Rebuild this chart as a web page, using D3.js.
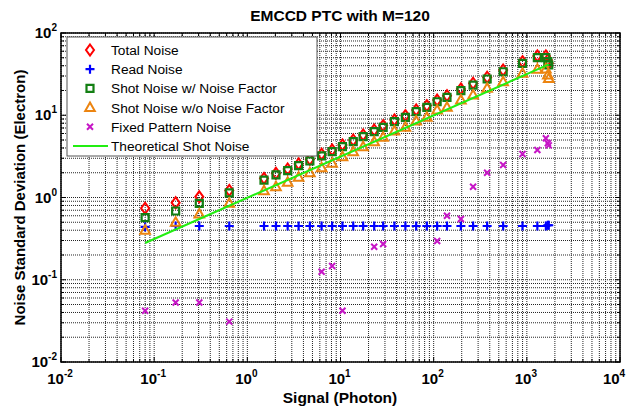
<!DOCTYPE html>
<html>
<head>
<meta charset="utf-8">
<script src="https://cdn.jsdelivr.net/npm/d3@7"></script>
<style>
  body { margin: 0; background: #fff; }
  text { font-family: Arial, "Liberation Sans", sans-serif; }
</style>
</head>
<body>
<div id="chart"></div>
<script>
// EMCCD photon transfer curve, log-log

const signal = [0.080, 0.170, 0.305, 0.640, 1.51, 2.03, 2.71, 3.55, 4.69, 6.27, 8.13, 10.5, 13.7, 17.5,
  23.0, 28.7, 37.9, 49.7, 64.9, 84.5, 109, 139, 196, 265, 375, 557, 899, 1297, 1600, 1680, 1720];
const totalNoise = [0.74, 0.865, 1.02, 1.22, 1.71, 1.97, 2.22, 2.56, 2.92, 3.36, 3.79, 4.36, 5.0, 5.76,
  6.62, 7.48, 8.77, 9.9, 11.6, 13.1, 15.3, 17.3, 20.9, 24.5, 29.0, 35.5, 44.9, 52.6, 52.6, 47.0, 42.8];
const readNoise = [0.44, 0.45, 0.45, 0.45, 0.45, 0.45, 0.45, 0.45, 0.45, 0.45, 0.45, 0.45, 0.45, 0.45,
  0.45, 0.45, 0.45, 0.45, 0.45, 0.45, 0.45, 0.45, 0.45, 0.45, 0.45, 0.45, 0.45, 0.45, 0.45, 0.46, 0.46];
const shotWithF = [0.57, 0.685, 0.85, 1.14, 1.63, 1.88, 2.12, 2.44, 2.78, 3.20, 3.61, 4.15, 4.77, 5.49,
  6.31, 7.13, 8.35, 9.44, 11.05, 12.5, 14.6, 16.5, 19.9, 23.3, 27.6, 33.8, 42.8, 50.1, 50.1, 44.8, 40.8];
const shotNoF = [0.40, 0.50, 0.63, 0.85, 1.21, 1.35, 1.53, 1.76, 2.00, 2.30, 2.61, 3.13, 3.60, 4.15,
  4.77, 5.40, 6.43, 7.13, 8.51, 9.44, 11.6, 12.5, 15.3, 17.6, 21.3, 25.6, 32.4, 36.2, 36.5, 30.9, 28.0];

const fpnSignal = [0.080, 0.170, 0.305, 0.640, 6.27, 8.13, 10.5, 23.0, 28.7, 109, 139, 196, 265, 375, 557, 899, 1297, 1600, 1680, 1720];
const fpnNoise = [0.042, 0.053, 0.053, 0.031, 0.125, 0.147, 0.042, 0.252, 0.272, 0.296, 0.60, 0.548, 1.35, 2.0, 2.48, 3.38, 3.78, 5.25, 4.56, 4.3];

const theorySignal = [0.08, 1720];
const theoryNoise = [0.28, 41.5];

const xMajor = [-2, -1, 0, 1, 2, 3, 4];
const yMajor = [-2, -1, 0, 1, 2];
const legendLabels = ['Total Noise', 'Read Noise', 'Shot Noise w/ Noise Factor', 'Shot Noise w/o Noise Factor',
  'Fixed Pattern Noise', 'Theoretical Shot Noise'];

const W = 631, H = 408;
const L = 61, R = 620, T = 33, B = 362;

const svg = d3.select('#chart').append('svg').attr('width', W).attr('height', H);

const x = d3.scaleLog().domain([1e-2, 1e4]).range([L, R]);
const y = d3.scaleLog().domain([1e-2, 1e2]).range([B, T]);

const isMajor = d => Math.abs(Math.log10(d) - Math.round(Math.log10(d))) < 1e-6;

// grid (major + minor, dotted)
const grid = svg.append('g').attr('stroke', '#000').attr('stroke-width', 1)
  .attr('stroke-dasharray', '1,1').attr('opacity', 0.85);
grid.selectAll('.gx').data(x.ticks()).enter().append('line')
  .attr('x1', d => x(d)).attr('x2', d => x(d)).attr('y1', T).attr('y2', B);
grid.selectAll('.gy').data(y.ticks()).enter().append('line')
  .attr('y1', d => y(d)).attr('y2', d => y(d)).attr('x1', L).attr('x2', R);

// inward ticks on all four sides
const ticks = svg.append('g').attr('stroke', '#000').attr('stroke-width', 1);
[[B, -1], [T, 1]].forEach(([y0, dir]) => {
  ticks.append('g').selectAll('line').data(x.ticks()).enter().append('line')
    .attr('x1', d => x(d)).attr('x2', d => x(d))
    .attr('y1', y0).attr('y2', d => y0 + dir * (isMajor(d) ? 5 : 3));
});
[[L, 1], [R, -1]].forEach(([x0, dir]) => {
  ticks.append('g').selectAll('line').data(y.ticks()).enter().append('line')
    .attr('y1', d => y(d)).attr('y2', d => y(d))
    .attr('x1', x0).attr('x2', d => x0 + dir * (isMajor(d) ? 5 : 3));
});

// tick labels 10^n
const xl = svg.append('g').selectAll('text').data(xMajor).enter().append('text')
  .attr('x', d => Math.min(x(Math.pow(10, d)) - 1, 614)).attr('y', 384)
  .attr('text-anchor', 'middle').attr('font-size', 15).attr('font-weight', 'bold');
xl.append('tspan').text('10');
xl.append('tspan').attr('dy', -7).attr('font-size', 10).text(d => d);

const yl = svg.append('g').selectAll('text').data(yMajor).enter().append('text')
  .attr('x', 57).attr('y', d => y(Math.pow(10, d)) + 5)
  .attr('text-anchor', 'end').attr('font-size', 15).attr('font-weight', 'bold');
yl.append('tspan').text('10');
yl.append('tspan').attr('dy', -7).attr('font-size', 10).text(d => d);

// titles
svg.append('text').attr('x', 340).attr('y', 21).attr('text-anchor', 'middle')
  .attr('font-size', 15.5).attr('font-weight', 'bold').text('EMCCD PTC with M=120');
svg.append('text').attr('x', 340).attr('y', 403).attr('text-anchor', 'middle')
  .attr('font-size', 15.5).attr('font-weight', 'bold').text('Signal (Photon)');
svg.append('text').attr('transform', `translate(25,${(T + B) / 2}) rotate(-90)`).attr('text-anchor', 'middle')
  .attr('font-size', 15).attr('font-weight', 'bold').text('Noise Standard Deviation (Electron)');

// marker shapes
const RED = '#ff0000', BLUE = '#0000ff', DGREEN = '#137f13', ORANGE = '#ec8410', MAGENTA = '#c616c6', LGREEN = '#22ee11';
const diamond = 'M0,-5.5 L4,0 L0,5.5 L-4,0 Z';
const plus = 'M-4.5,0 L4.5,0 M0,-4.5 L0,4.5';
const square = 'M-3.5,-3.5 L3.5,-3.5 L3.5,3.5 L-3.5,3.5 Z';
const tri = 'M0,-5 L4.8,3.5 L-4.8,3.5 Z';
const cross = 'M-3,-3 L3,3 M-3,3 L3,-3';

const plot = svg.append('g');
const drawSeries = function(xs, ys, shape, color, sw) {
  plot.append('g').selectAll('path').data(xs.map((s, i) => [s, ys[i]])).enter().append('path')
    .attr('d', shape)
    .attr('transform', d => `translate(${x(d[0])},${y(d[1])})`)
    .attr('fill', 'none').attr('stroke', color).attr('stroke-width', sw);
};
drawSeries(signal, totalNoise, diamond, RED, 2);
drawSeries(signal, readNoise, plus, BLUE, 2.2);
drawSeries(signal, shotWithF, square, DGREEN, 2.2);
drawSeries(signal, shotNoF, tri, ORANGE, 2);
drawSeries(fpnSignal, fpnNoise, cross, MAGENTA, 2);

plot.append('path')
  .datum(theorySignal.map((s, i) => [s, theoryNoise[i]]))
  .attr('d', d3.line().x(d => x(d[0])).y(d => y(d[1])))
  .attr('fill', 'none').attr('stroke', LGREEN).attr('stroke-width', 2);

// frame
svg.append('rect').attr('x', L).attr('y', T).attr('width', R - L).attr('height', B - T)
  .attr('fill', 'none').attr('stroke', '#000').attr('stroke-width', 1.5);

// legend
const lg = svg.append('g').attr('transform', 'translate(67,37)');
lg.append('rect').attr('width', 250).attr('height', 119)
  .attr('fill', '#fff').attr('stroke', '#555').attr('stroke-width', 1);
const legendMarks = [[diamond, RED, 2], [plus, BLUE, 2.2], [square, DGREEN, 2.2], [tri, ORANGE, 2], [cross, MAGENTA, 2]];
const rows = lg.selectAll('g').data(legendLabels).enter().append('g')
  .attr('transform', (d, i) => `translate(0,${13 + i * 19.2})`);
rows.append('text').attr('x', 44).attr('y', 5).attr('font-size', 13.7).text(d => d);
rows.filter((d, i) => i < 5).append('path')
  .attr('d', (d, i) => legendMarks[i][0]).attr('transform', 'translate(23,0)')
  .attr('fill', 'none').attr('stroke', (d, i) => legendMarks[i][1]).attr('stroke-width', (d, i) => legendMarks[i][2]);
rows.filter((d, i) => i === 5).append('line')
  .attr('x1', 6).attr('x2', 41).attr('y1', 0).attr('y2', 0)
  .attr('stroke', LGREEN).attr('stroke-width', 2);
</script>
</body>
</html>
